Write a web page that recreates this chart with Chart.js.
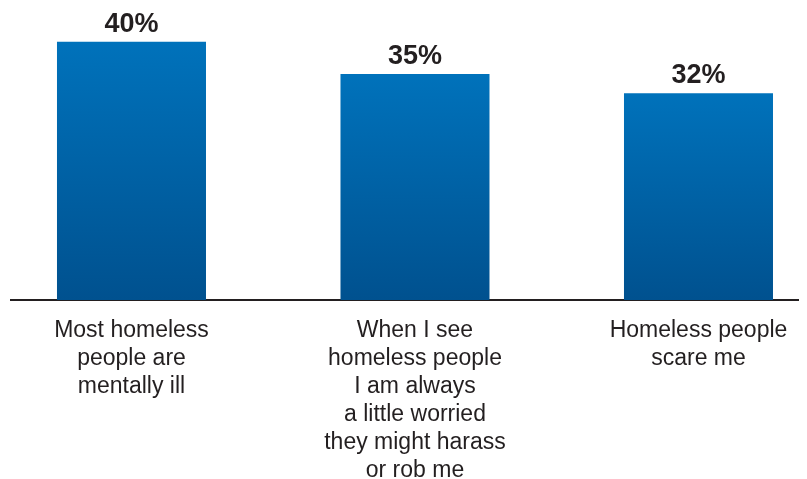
<!DOCTYPE html>
<html>
<head>
<meta charset="utf-8">
<script src="https://cdn.jsdelivr.net/npm/chart.js@4/dist/chart.umd.min.js"></script>
<style>
  html, body { margin: 0; padding: 0; background: #ffffff; }
  #wrap { width: 807px; height: 479px; position: relative; }
</style>
</head>
<body>
<div id="wrap"><canvas id="c" width="807" height="479"></canvas></div>
<script>
const categories = [
  ["Most homeless", "people are", "mentally ill"],
  ["When I see", "homeless people", "I am always", "a little worried", "they might harass", "or rob me"],
  ["Homeless people", "scare me"]
];
const values = [40, 35, 32];
const valueLabels = ["40%", "35%", "32%"];

const TEXT = '#231f20';
const FONT = '"Liberation Sans", Arial, Helvetica, sans-serif';

function barGradient(ctx) {
  const chart = ctx.chart;
  if (!chart.chartArea || ctx.dataIndex === undefined) return '#0063a8';
  const y = chart.scales.y;
  const top = y.getPixelForValue(values[ctx.dataIndex]);
  const bottom = y.getPixelForValue(0);
  const g = chart.ctx.createLinearGradient(0, top, 0, bottom);
  g.addColorStop(0, '#0072bb');
  g.addColorStop(1, '#00518f');
  return g;
}

const valueLabelPlugin = {
  id: 'valueLabels',
  afterDatasetsDraw(chart) {
    const ctx = chart.ctx;
    const meta = chart.getDatasetMeta(0);
    ctx.save();
    ctx.fillStyle = TEXT;
    ctx.font = 'bold 27px ' + FONT;
    ctx.textAlign = 'center';
    ctx.textBaseline = 'alphabetic';
    meta.data.forEach((bar, i) => {
      ctx.fillText(valueLabels[i], bar.x, bar.y - 10);
    });
    ctx.restore();
  }
};

new Chart(document.getElementById('c'), {
  type: 'bar',
  data: {
    datasets: [{
      data: values.map((v, i) => ({ x: i, y: v })),
      backgroundColor: barGradient,
      borderWidth: 0,
      barPercentage: 0.5256,
      categoryPercentage: 1
    }]
  },
  options: {
    responsive: false,
    animation: false,
    layout: { padding: { left: 11, right: 9, top: 0, bottom: 0 } },
    plugins: { legend: { display: false }, tooltip: { enabled: false } },
    scales: {
      x: {
        type: 'linear',
        offset: false,
        bounds: 'data',
        min: -0.425,
        max: 2.351,
        afterBuildTicks: (scale) => { scale.ticks = categories.map((c, i) => ({ value: i })); },
        afterFit: (scale) => { scale.height = 179; },
        grid: { display: false, drawTicks: false, offset: false },
        border: { display: true, color: TEXT, width: 2 },
        ticks: {
          autoSkip: false,
          maxRotation: 0,
          minRotation: 0,
          padding: 17,
          color: TEXT,
          font: { family: FONT, size: 23, lineHeight: '28px' },
          callback: (value) => categories[value]
        }
      },
      y: {
        display: false,
        min: 0,
        max: 46.45
      }
    }
  },
  plugins: [valueLabelPlugin]
});
</script>
</body>
</html>
